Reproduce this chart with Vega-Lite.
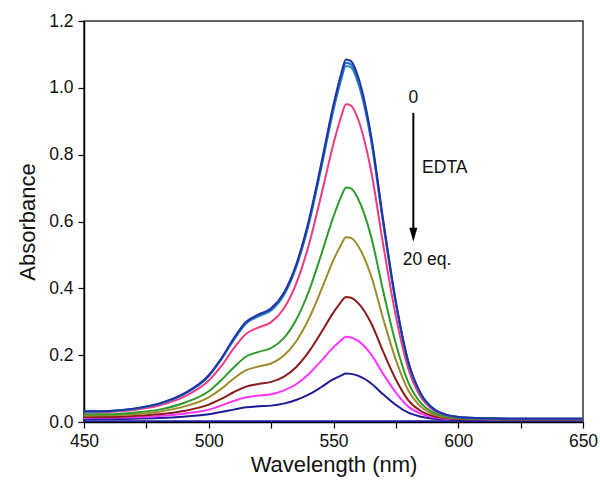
{
  "$schema": "https://vega.github.io/schema/vega-lite/v6.json",
  "autosize": {"type": "none"},
  "width": 499,
  "height": 401,
  "padding": {"left": 84, "top": 21, "right": 17, "bottom": 66},
  "background": "white",
  "config": {
    "font": "Liberation Sans",
    "view": {"stroke": "#333333", "strokeWidth": 1.5},
    "axis": {
      "domainColor": "black", "domainWidth": 1.5, "tickColor": "black", "tickWidth": 1.2,
      "labelColor": "#111111", "titleColor": "#111111", "labelFont": "Liberation Sans", "titleFont": "Liberation Sans",
      "labelFontSize": 17.5, "titleFontSize": 22, "titleFontWeight": "normal", "grid": false
    }
  },
  "datasets": {
    "spec": [
      {"x":450,"c1":0.032,"c2":0.032,"c3":0.031,"c4":0.029,"c5":0.023,"c6":0.019,"c7":0.015,"c8":0.012,"c9":0.009,"base":0.002},
      {"x":460,"c1":0.033,"c2":0.033,"c3":0.032,"c4":0.030,"c5":0.023,"c6":0.020,"c7":0.015,"c8":0.013,"c9":0.009,"base":0.002},
      {"x":470,"c1":0.040,"c2":0.040,"c3":0.039,"c4":0.036,"c5":0.028,"c6":0.023,"c7":0.018,"c8":0.014,"c9":0.010,"base":0.002},
      {"x":480,"c1":0.055,"c2":0.055,"c3":0.054,"c4":0.049,"c5":0.037,"c6":0.031,"c7":0.023,"c8":0.018,"c9":0.012,"base":0.002},
      {"x":490,"c1":0.085,"c2":0.084,"c3":0.083,"c4":0.075,"c5":0.057,"c6":0.046,"c7":0.033,"c8":0.025,"c9":0.016,"base":0.002},
      {"x":500,"c1":0.140,"c2":0.139,"c3":0.137,"c4":0.124,"c5":0.092,"c6":0.074,"c7":0.052,"c8":0.037,"c9":0.023,"base":0.002},
      {"x":505,"c1":0.190,"c2":0.188,"c3":0.187,"c4":0.167,"c5":0.125,"c6":0.099,"c7":0.069,"c8":0.049,"c9":0.030,"base":0.002},
      {"x":510,"c1":0.250,"c2":0.248,"c3":0.245,"c4":0.220,"c5":0.163,"c6":0.130,"c7":0.089,"c8":0.063,"c9":0.037,"base":0.002},
      {"x":515,"c1":0.300,"c2":0.297,"c3":0.295,"c4":0.264,"c5":0.196,"c6":0.155,"c7":0.106,"c8":0.074,"c9":0.044,"base":0.002},
      {"x":520,"c1":0.322,"c2":0.319,"c3":0.316,"c4":0.283,"c5":0.210,"c6":0.166,"c7":0.114,"c8":0.079,"c9":0.047,"base":0.002},
      {"x":525,"c1":0.340,"c2":0.337,"c3":0.334,"c4":0.299,"c5":0.221,"c6":0.175,"c7":0.120,"c8":0.083,"c9":0.049,"base":0.002},
      {"x":530,"c1":0.385,"c2":0.382,"c3":0.378,"c4":0.338,"c5":0.250,"c6":0.198,"c7":0.135,"c8":0.094,"c9":0.055,"base":0.002},
      {"x":535,"c1":0.470,"c2":0.466,"c3":0.462,"c4":0.413,"c5":0.305,"c6":0.241,"c7":0.164,"c8":0.113,"c9":0.066,"base":0.002},
      {"x":540,"c1":0.600,"c2":0.595,"c3":0.589,"c4":0.527,"c5":0.389,"c6":0.307,"c7":0.209,"c8":0.143,"c9":0.082,"base":0.002},
      {"x":545,"c1":0.770,"c2":0.763,"c3":0.756,"c4":0.676,"c5":0.499,"c6":0.393,"c7":0.267,"c8":0.182,"c9":0.104,"base":0.002},
      {"x":550,"c1":0.950,"c2":0.941,"c3":0.933,"c4":0.833,"c5":0.615,"c6":0.485,"c7":0.328,"c8":0.224,"c9":0.128,"base":0.002},
      {"x":553,"c1":1.040,"c2":1.031,"c3":1.021,"c4":0.912,"c5":0.673,"c6":0.530,"c7":0.359,"c8":0.244,"c9":0.139,"base":0.002},
      {"x":555,"c1":1.085,"c2":1.075,"c3":1.065,"c4":0.951,"c5":0.702,"c6":0.553,"c7":0.374,"c8":0.255,"c9":0.145,"base":0.002},
      {"x":557,"c1":1.080,"c2":1.070,"c3":1.061,"c4":0.947,"c5":0.699,"c6":0.551,"c7":0.372,"c8":0.253,"c9":0.144,"base":0.002},
      {"x":560,"c1":1.030,"c2":1.021,"c3":1.011,"c4":0.903,"c5":0.666,"c6":0.525,"c7":0.355,"c8":0.242,"c9":0.138,"base":0.002},
      {"x":565,"c1":0.860,"c2":0.852,"c3":0.845,"c4":0.754,"c5":0.557,"c6":0.439,"c7":0.297,"c8":0.203,"c9":0.116,"base":0.002},
      {"x":570,"c1":0.600,"c2":0.595,"c3":0.589,"c4":0.527,"c5":0.389,"c6":0.307,"c7":0.209,"c8":0.143,"c9":0.082,"base":0.002},
      {"x":575,"c1":0.360,"c2":0.357,"c3":0.354,"c4":0.316,"c5":0.234,"c6":0.186,"c7":0.127,"c8":0.088,"c9":0.051,"base":0.002},
      {"x":580,"c1":0.180,"c2":0.178,"c3":0.177,"c4":0.159,"c5":0.118,"c6":0.094,"c7":0.065,"c8":0.046,"c9":0.028,"base":0.002},
      {"x":585,"c1":0.085,"c2":0.084,"c3":0.083,"c4":0.075,"c5":0.057,"c6":0.046,"c7":0.033,"c8":0.025,"c9":0.016,"base":0.002},
      {"x":590,"c1":0.040,"c2":0.040,"c3":0.039,"c4":0.036,"c5":0.028,"c6":0.023,"c7":0.018,"c8":0.014,"c9":0.010,"base":0.002},
      {"x":595,"c1":0.022,"c2":0.022,"c3":0.022,"c4":0.020,"c5":0.016,"c6":0.014,"c7":0.012,"c8":0.010,"c9":0.008,"base":0.002},
      {"x":600,"c1":0.015,"c2":0.015,"c3":0.015,"c4":0.014,"c5":0.012,"c6":0.011,"c7":0.009,"c8":0.009,"c9":0.007,"base":0.002},
      {"x":610,"c1":0.011,"c2":0.011,"c3":0.011,"c4":0.011,"c5":0.009,"c6":0.009,"c7":0.008,"c8":0.008,"c9":0.006,"base":0.002},
      {"x":620,"c1":0.010,"c2":0.010,"c3":0.010,"c4":0.010,"c5":0.008,"c6":0.008,"c7":0.007,"c8":0.007,"c9":0.006,"base":0.002},
      {"x":630,"c1":0.010,"c2":0.010,"c3":0.010,"c4":0.010,"c5":0.008,"c6":0.008,"c7":0.007,"c8":0.007,"c9":0.006,"base":0.002},
      {"x":640,"c1":0.010,"c2":0.010,"c3":0.010,"c4":0.010,"c5":0.008,"c6":0.008,"c7":0.007,"c8":0.007,"c9":0.006,"base":0.002},
      {"x":650,"c1":0.010,"c2":0.010,"c3":0.010,"c4":0.010,"c5":0.008,"c6":0.008,"c7":0.007,"c8":0.007,"c9":0.006,"base":0.002}
    ]
  },
  "layer": [
    {
      "data": {"name": "spec"},
      "transform": [{"fold": ["base","c9","c8","c7","c6","c5","c4","c3","c2","c1"], "as": ["s","a"]}],
      "mark": {"type": "line", "interpolate": "monotone", "strokeWidth": 2, "clip": true},
      "encoding": {
        "x": {"field": "x", "type": "quantitative", "title": "Wavelength (nm)",
          "scale": {"domain": [450, 650], "nice": false},
          "axis": {"values": [450,475,500,525,550,575,600,625,650],
            "labelExpr": "datum.value % 50 === 0 ? datum.label : ''",
            "tickSize": 6, "labelPadding": 4, "titlePadding": 5, "labelFlush": false,
            "encode": {"ticks": {"update": {"y2": {"signal": "datum.value % 50 === 0 ? 6 : 3"}}}}}},
        "y": {"field": "a", "type": "quantitative", "title": "Absorbance",
          "scale": {"domain": [0, 1.2], "nice": false},
          "axis": {"values": [0,0.1,0.2,0.3,0.4,0.5,0.6,0.7,0.8,0.9,1.0,1.1,1.2],
            "labelExpr": "round(datum.value*10) % 2 === 0 ? format(datum.value, '.1f') : ''",
            "tickSize": 6, "labelPadding": 5, "titlePadding": 9, "labelFlush": false,
            "encode": {"ticks": {"update": {"x2": {"signal": "round(datum.value*10) % 2 === 0 ? -6 : -3"}}}}}},
        "color": {"field": "s", "type": "nominal", "legend": null,
          "scale": {"domain": ["c1","c2","c3","c4","c5","c6","c7","c8","c9","base"],
            "range": ["#2233aa","#1f6fbf","#2e8fb8","#ee3a80","#2e9a2e","#9c8c2c","#8b1a1a","#ff33ff","#1c1c96","#1c1c96"]}},
        "order": {"field": "s", "type": "nominal"}
      }
    },
    {
      "data": {"values": [{"x": 582, "a": 0.925, "a2": 0.575}]},
      "mark": {"type": "rule", "color": "black", "strokeWidth": 2},
      "encoding": {
        "x": {"field": "x", "type": "quantitative", "title": "Wavelength (nm)"},
        "y": {"field": "a", "type": "quantitative", "title": "Absorbance"},
        "y2": {"field": "a2"}
      }
    },
    {
      "data": {"values": [{"x": 582, "a": 0.56}]},
      "mark": {"type": "point", "shape": "M-1,-1.75L1,-1.75L0,1.75Z", "filled": true, "color": "black", "size": 64, "opacity": 1},
      "encoding": {
        "x": {"field": "x", "type": "quantitative", "title": "Wavelength (nm)"},
        "y": {"field": "a", "type": "quantitative", "title": "Absorbance"}
      }
    },
    {
      "data": {"values": [
        {"x": 582, "a": 0.970, "t": "0"},
        {"x": 587.5, "a": 0.485, "t": "20 eq."}
      ]},
      "mark": {"type": "text", "fontSize": 17.5, "font": "Liberation Sans", "color": "#111111", "baseline": "middle", "align": "center"},
      "encoding": {
        "x": {"field": "x", "type": "quantitative", "title": "Wavelength (nm)"},
        "y": {"field": "a", "type": "quantitative", "title": "Absorbance"},
        "text": {"field": "t"}
      }
    },
    {
      "data": {"values": [
        {"x": 585.5, "a": 0.760, "t": "EDTA"}
      ]},
      "mark": {"type": "text", "fontSize": 17.5, "font": "Liberation Sans", "color": "#111111", "baseline": "middle", "align": "left"},
      "encoding": {
        "x": {"field": "x", "type": "quantitative", "title": "Wavelength (nm)"},
        "y": {"field": "a", "type": "quantitative", "title": "Absorbance"},
        "text": {"field": "t"}
      }
    }
  ]
}
